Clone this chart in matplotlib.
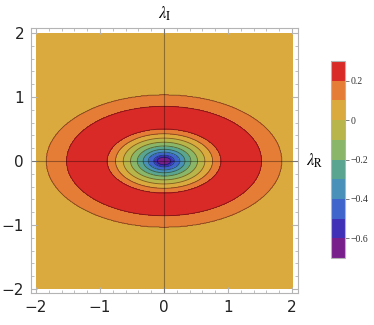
import numpy as np
import matplotlib
matplotlib.use("Agg")
import matplotlib.pyplot as plt
from matplotlib.ticker import MultipleLocator, FuncFormatter

plt.rcParams['mathtext.fontset'] = 'stix'

# contour levels and band colours (bottom -> top)
levels = [-0.7, -0.6, -0.5, -0.4, -0.3, -0.2, -0.1, 0.0, 0.1, 0.2, 0.3]
band_colors = ['#781f8c', '#4030b8', '#3f65cc', '#4a91ba', '#5aa58f',
               '#8ab66a', '#b8b54a', '#dbaa3e', '#e57d36', '#da2a27']

# radial profile (u = elliptic radius, value at that radius)
u_read = [0.0, 0.06, 0.09, 0.139, 0.183, 0.235, 0.294, 0.358, 0.426, 0.498, 0.68, 0.856, 1.031, 3.0]
f_read = [-0.66, -0.6, -0.5, -0.4, -0.3, -0.2, -0.1, 0.0, 0.1, 0.2, 0.27, 0.2, 0.1, 0.05]
x_stretch = 1.78

cbar_ticks = [-0.6, -0.4, -0.2, 0.0, 0.2]
axis_ticks = [-2, -1, 0, 1, 2]

# field
lr = np.linspace(-2, 2, 401)
li = np.linspace(-2, 2, 401)
LR, LI = np.meshgrid(lr, li)
U = np.sqrt((LR / x_stretch) ** 2 + LI ** 2)
Z = np.interp(U, u_read, f_read)

fig = plt.figure(figsize=(3.74, 3.25), dpi=100)
ax = fig.add_axes([0.083, 0.0985, 0.714, 0.815])

cf = ax.contourf(LR, LI, Z, levels=levels, colors=band_colors)
ax.contour(LR, LI, Z, levels=levels[1:-1], colors='k', linewidths=0.6,
           alpha=0.45, linestyles='solid')
ax.axhline(0, color='k', lw=0.8, alpha=0.35)
ax.axvline(0, color='k', lw=0.8, alpha=0.35)

ax.set_xlim(-2.078, 2.094)
ax.set_ylim(-2.063, 2.078)

gray = '#b4b4b4'
for s in ax.spines.values():
    s.set_color(gray)
    s.set_linewidth(0.8)
ax.set_xticks(axis_ticks)
ax.set_yticks(axis_ticks)
ax.xaxis.set_minor_locator(MultipleLocator(0.2))
ax.yaxis.set_minor_locator(MultipleLocator(0.2))
fmt = FuncFormatter(lambda v, p: ('%d' % v).replace('-', '\u2212'))
ax.xaxis.set_major_formatter(fmt)
ax.yaxis.set_major_formatter(fmt)
ax.tick_params(which='both', direction='in', top=True, right=True, color=gray,
               labelsize=11, labelcolor='#222222')
ax.tick_params(which='major', length=4, width=0.8, pad=5)
ax.tick_params(which='minor', length=2, width=0.6)

ax.text(0.5, 1.018, r'$\lambda_{\mathrm{I}}$', transform=ax.transAxes,
        ha='center', va='bottom', fontsize=12)
ax.text(1.03, 0.5, r'$\lambda_{\mathrm{R}}$', transform=ax.transAxes,
        ha='left', va='center', fontsize=12)

cax = fig.add_axes([0.885, 0.206, 0.0374, 0.606])
cb = fig.colorbar(cf, cax=cax, ticks=cbar_ticks)
cb.outline.set_edgecolor(gray)
cb.outline.set_linewidth(0.8)
cb.ax.yaxis.set_major_formatter(FuncFormatter(
    lambda v, p: ('%g' % round(v, 1)).replace('-', '\u2212')))
cb.ax.tick_params(length=3, width=0.6, color='#666666', labelsize=7, pad=1,
                  labelcolor='#333333')
for t in cb.ax.get_yticklabels():
    t.set_family('Liberation Serif')

fig.savefig('out.png', dpi=100)
